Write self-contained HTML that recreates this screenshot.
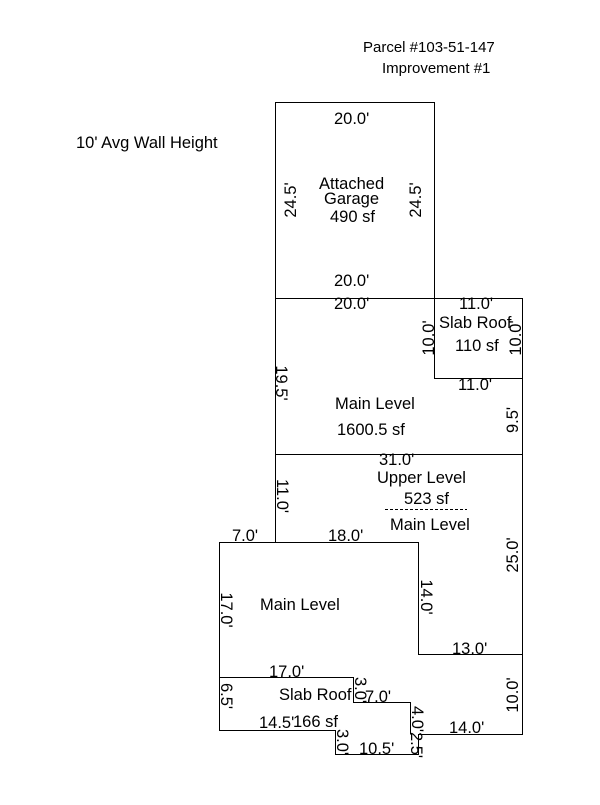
<!DOCTYPE html>
<html><head><style>
body{margin:0;background:#fff}
svg text{font-family:"Liberation Sans",Arial,sans-serif;font-size:16.5px;fill:#000}
svg text.h{font-size:15px}
</style></head><body>
<svg width="600" height="800" xmlns="http://www.w3.org/2000/svg">
<rect width="600" height="800" fill="#fff"/>
<g fill="none" stroke="#000" stroke-width="1">
<rect x="275.5" y="102.5" width="159" height="196"/>
<rect x="275.5" y="298.5" width="247" height="156"/>
<rect x="434.5" y="298.5" width="88" height="80"/>
<polyline points="275.5,454 275.5,542.5 219.5,542.5 219.5,730.5 335.5,730.5 335.5,754.5 418.5,754.5 418.5,734.5 522.5,734.5 522.5,454"/>
<polyline points="219.5,542.5 418.5,542.5 418.5,654.5 522.5,654.5"/>
<polyline points="219.5,677.5 353.5,677.5 353.5,702.5 410.5,702.5 410.5,734.5"/>
<line x1="385" y1="509.5" x2="467" y2="509.5" stroke-dasharray="3,2"/>
</g>
<text class="h" x="363" y="52">Parcel #103-51-147</text>
<text class="h" x="382" y="73">Improvement #1</text>
<text x="76" y="148">10' Avg Wall Height</text>
<text x="334" y="124">20.0'</text>
<text x="319" y="189">Attached</text>
<text x="324" y="204">Garage</text>
<text x="330" y="222">490 sf</text>
<text x="334" y="286">20.0'</text>
<text x="334" y="309">20.0'</text>
<text x="459" y="309">11.0'</text>
<text x="439" y="328">Slab Roof</text>
<text x="455" y="351">110 sf</text>
<text x="458" y="390">11.0'</text>
<text x="335" y="409">Main Level</text>
<text x="337" y="435">1600.5 sf</text>
<text x="379" y="465">31.0'</text>
<text x="377" y="483">Upper Level</text>
<text x="404" y="504">523 sf</text>
<text x="390" y="530">Main Level</text>
<text x="232" y="541">7.0'</text>
<text x="328" y="541">18.0'</text>
<text x="260" y="610">Main Level</text>
<text x="452" y="654">13.0'</text>
<text x="269" y="677">17.0'</text>
<text x="279" y="700">Slab Roof</text>
<text x="365" y="702">7.0'</text>
<text x="259" y="728">14.5'</text>
<text x="293" y="727">166 sf</text>
<text x="449" y="733">14.0'</text>
<text x="359" y="754">10.5'</text>
<g>
<text transform="translate(296,200) rotate(-90)" text-anchor="middle">24.5'</text>
<text transform="translate(421,200) rotate(-90)" text-anchor="middle">24.5'</text>
<text transform="translate(434,338) rotate(-90)" text-anchor="middle">10.0'</text>
<text transform="translate(521,338) rotate(-90)" text-anchor="middle">10.0'</text>
<text transform="translate(276,383) rotate(90)" text-anchor="middle">19.5'</text>
<text transform="translate(518,420) rotate(-90)" text-anchor="middle">9.5'</text>
<text transform="translate(277,496) rotate(90)" text-anchor="middle">11.0'</text>
<text transform="translate(518,555) rotate(-90)" text-anchor="middle">25.0'</text>
<text transform="translate(421,597) rotate(90)" text-anchor="middle">14.0'</text>
<text transform="translate(221,610) rotate(90)" text-anchor="middle">17.0'</text>
<text transform="translate(518,695) rotate(-90)" text-anchor="middle">10.0'</text>
<text transform="translate(221,696) rotate(90)" text-anchor="middle">6.5'</text>
<text transform="translate(355,690) rotate(90)" text-anchor="middle">3.0'</text>
<text transform="translate(412,719) rotate(90)" text-anchor="middle">4.0'</text>
<text transform="translate(337,742) rotate(90)" text-anchor="middle">3.0'</text>
<text transform="translate(411,745) rotate(90)" text-anchor="middle">2.5'</text>
</g>
</svg>
</body></html>
